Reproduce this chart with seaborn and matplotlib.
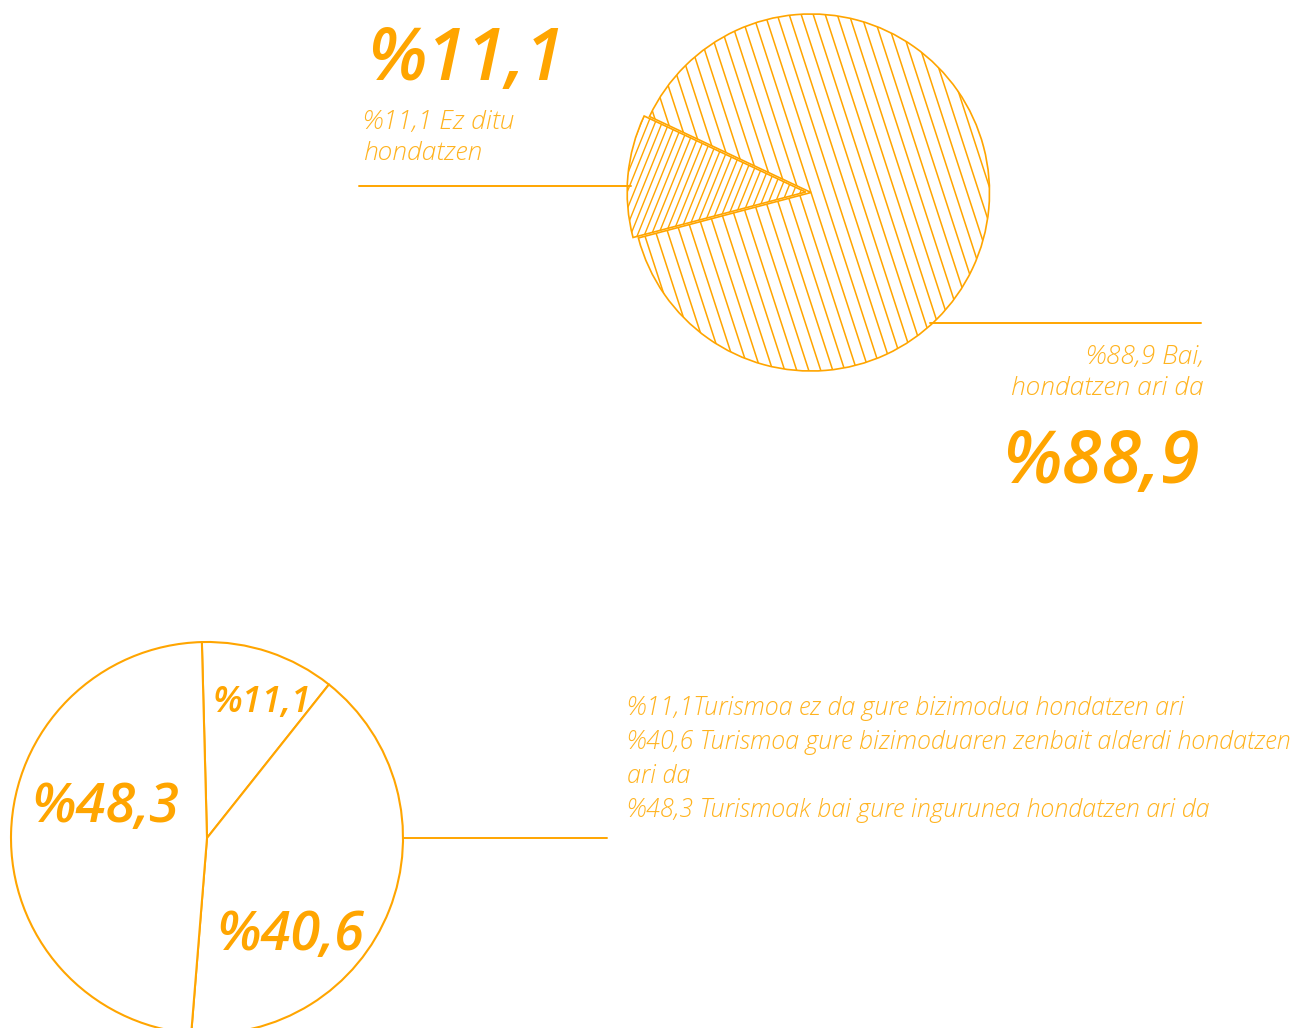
import numpy as np
import matplotlib
matplotlib.use("Agg")
import matplotlib.pyplot as plt
import seaborn as sns
from matplotlib.collections import LineCollection
from matplotlib.lines import Line2D

sns.set_theme(style="white")
plt.rcParams['font.family'] = ['Open Sans', 'DejaVu Sans']

ORANGE = '#FFA500'
LIGHT = '#FFB31F'

# ---- data ----
top_values = [11.1, 88.9]
top_labels = ["Ez ditu\nhondatzen", "Bai,\nhondatzen ari da"]
bottom_values = [11.1, 40.6, 48.3]
bottom_labels = ["Turismoa ez da gure bizimodua hondatzen ari",
                 "Turismoa gure bizimoduaren zenbait alderdi hondatzen\nari da",
                 "Turismoak bai gure ingurunea hondatzen ari da"]


def pct(v):
    return "%" + f"{v:.1f}".replace(".", ",")


W, H = 1296, 1028
fig = plt.figure(figsize=(W / 100, H / 100), dpi=100)
fig.patch.set_facecolor('white')

M = 0.1


def px_axes(cx, cy, r):
    s = r * (1 + M)
    ax = fig.add_axes([(cx - s) / W, (H - cy - s) / H, 2 * s / W, 2 * s / H])
    return ax


def finish(ax):
    ax.set_xlim(-1 - M, 1 + M)
    ax.set_ylim(-1 - M, 1 + M)
    ax.set_aspect('equal')
    ax.axis('off')


def hatch(ax, wedge, angle_deg, spacing, lw):
    th = np.deg2rad(angle_deg)
    d = np.array([np.cos(th), np.sin(th)])
    n = np.array([-d[1], d[0]])
    segs = [[o * n - 1.8 * d, o * n + 1.8 * d] for o in np.arange(-1.6, 1.6, spacing)]
    lc = LineCollection(segs, colors=ORANGE, linewidths=lw, zorder=wedge.get_zorder() + 0.1)
    ax.add_collection(lc)
    lc.set_clip_path(wedge)


def ftext(x, y, s, **kw):
    return fig.text(x / W, 1 - y / H, s, **kw)


def fline(x0, x1, y):
    fig.add_artist(Line2D([x0 / W, x1 / W], [1 - y / H, 1 - y / H],
                          transform=fig.transFigure, color=ORANGE, lw=1.4))


# ---- top pie ----
ax1 = px_axes(811, 192.5, 178.5)
wedges1, _ = ax1.pie(top_values, startangle=154.8, counterclock=True,
                     explode=[0.03, 0], colors=['white', 'white'],
                     wedgeprops=dict(edgecolor=ORANGE, linewidth=1.2))
finish(ax1)
hatch(ax1, wedges1[0], 68, 0.036, 1.0)
hatch(ax1, wedges1[1], -72, 0.064, 1.1)

fline(359, 631, 186)
fline(930, 1201, 323)

big = dict(color=ORANGE, fontsize=52, fontweight='semibold', fontstyle='italic')
small = dict(color=LIGHT, fontsize=19, fontweight='light', fontstyle='italic')

ftext(367, 80, pct(top_values[0]), ha='left', va='baseline', **big)
for i, line in enumerate((pct(top_values[0]) + " " + top_labels[0]).split("\n")):
    ftext(363, 129 + i * 31, line, ha='left', va='baseline', **small)

for i, line in enumerate((pct(top_values[1]) + " " + top_labels[1]).split("\n")):
    ftext(1204, 364 + i * 31, line, ha='right', va='baseline', **small)
ftext(1200, 483, pct(top_values[1]), ha='right', va='baseline', **big)

# ---- bottom pie ----
ax2 = px_axes(207, 838, 196)
wedges2, _ = ax2.pie(bottom_values, startangle=91.5, counterclock=False,
                     colors=['white'] * 3,
                     wedgeprops=dict(edgecolor=ORANGE, linewidth=1.5))
finish(ax2)

label_pos = [(0.28, 0.643, 26), (0.423, -0.571, 39), (-0.52, 0.082, 39)]
for v, (x, y, fs) in zip(bottom_values, label_pos):
    ax2.text(x, y, pct(v), ha='center', va='baseline', color=ORANGE,
             fontsize=fs, fontweight='semibold', fontstyle='italic')

fline(403, 607, 838)

legend_lines = []
for i, (v, lab) in enumerate(zip(bottom_values, bottom_labels)):
    sep = "" if i == 0 else " "
    legend_lines.extend((pct(v) + sep + lab).split("\n"))
for i, line in enumerate(legend_lines):
    ftext(627, 715 + i * 34, line, ha='left', va='baseline', color=LIGHT,
          fontsize=18.1, fontweight='light', fontstyle='italic')

fig.savefig("out.png", dpi=100, facecolor='white')
